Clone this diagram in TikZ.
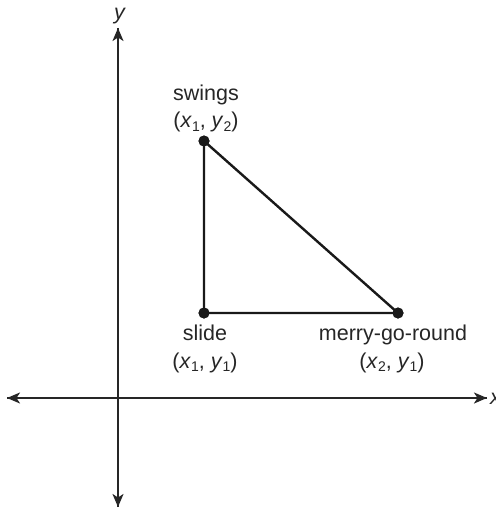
\documentclass[tikz,border=0pt]{standalone}
\usepackage{fontspec}
\setmainfont{Liberation Sans}
\usetikzlibrary{arrows.meta}
\newcommand{\lowsub}[1]{\raisebox{-0.35ex}{\fontsize{14}{14}\selectfont #1}}
\begin{document}
\begin{tikzpicture}[x=1pt,y=-1pt,
  axis/.style={line width=2pt,draw=black!85,-{Stealth[length=13pt,width=11pt,inset=3.5pt]}},
  edge/.style={line width=2.4pt,draw=black!90},
  dot/.style={circle,fill=black!90,inner sep=0pt,minimum size=11pt},
  lbl/.style={inner sep=0pt,anchor=base,font=\fontsize{21.5}{24}\selectfont,text=black!85}]
\useasboundingbox (0,0) rectangle (495,508);
% axes
\coordinate (yb) at (118,507);
\coordinate (yt) at (118,28);
\coordinate (xl) at (7,398);
\coordinate (xr) at (487,398);
\draw[axis] (yb) -- (yt);
\draw[axis] (xl) -- (xr);
\draw[axis] (xr) -- (xl);
\draw[axis] (yt) -- (yb);
\node[lbl] (ylab) at (120,20) {\textit{y}};
\node[lbl,anchor=base west] (xlab) at (490,404) {\textit{x}};
% points
\node[dot] (sw) at (204,141) {};
\node[dot] (sl) at (204,313) {};
\node[dot] (mg) at (398,313) {};
\draw[edge] (sw.center) -- (sl.center) -- (mg.center) -- cycle;
\node[dot] at (sw) {};
\node[dot] at (sl) {};
\node[dot] at (mg) {};
% labels
\node[lbl] (swl1) at (206,100) {swings};
\node[lbl] (swl2) at (206,128) {(\textit{x}\lowsub{1}, \textit{y}\lowsub{2})};
\node[lbl] (sll1) at (205,340) {slide};
\node[lbl] (sll2) at (205,368) {(\textit{x}\lowsub{1}, \textit{y}\lowsub{1})};
\node[lbl] (mgl1) at (393,340) {merry-go-round};
\node[lbl] (mgl2) at (392,368) {(\textit{x}\lowsub{2}, \textit{y}\lowsub{1})};
\end{tikzpicture}
\end{document}
